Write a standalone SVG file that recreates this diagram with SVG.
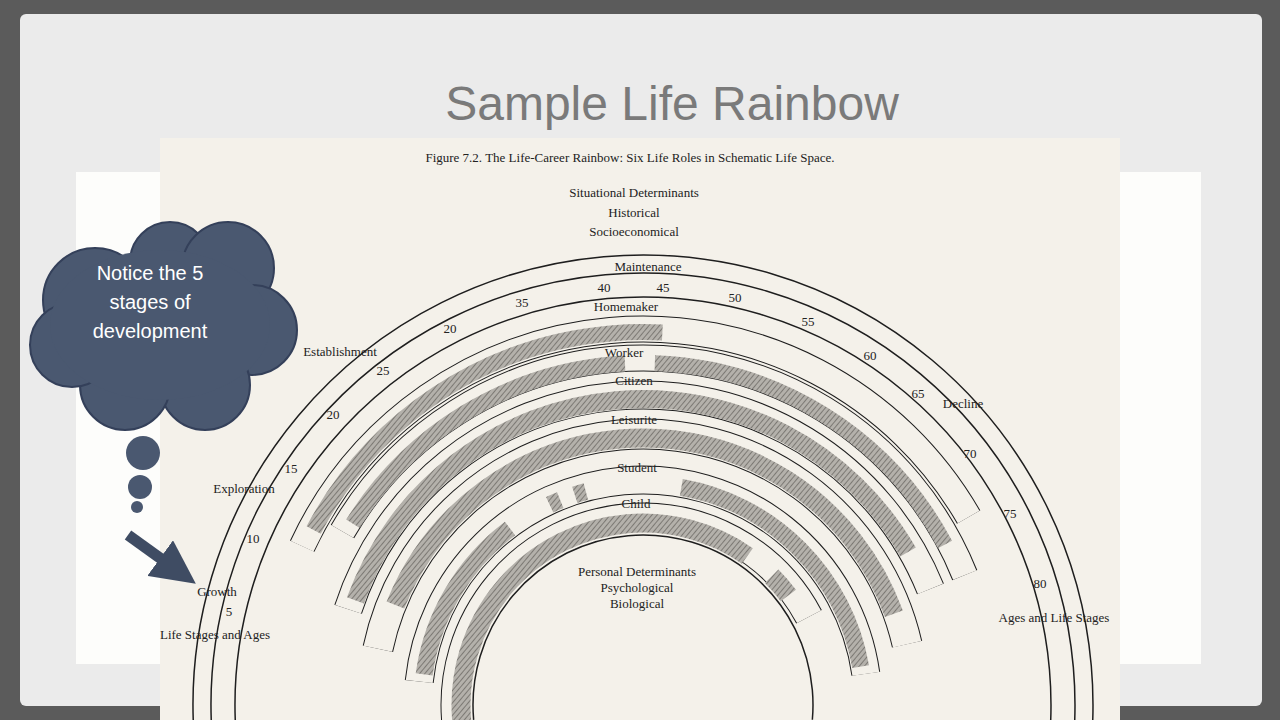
<svg xmlns="http://www.w3.org/2000/svg" width="1280" height="720" viewBox="0 0 1280 720">
<defs>
<pattern id="hatch" width="4" height="4" patternUnits="userSpaceOnUse" patternTransform="rotate(45)">
<rect width="4" height="4" fill="#b4b1ab"/><line x1="0" y1="0" x2="0" y2="4" stroke="#6e6b66" stroke-width="1.6"/>
</pattern>
<clipPath id="sc"><rect x="160" y="138" width="960" height="582"/></clipPath>
<marker id="ah" markerWidth="4" markerHeight="4" refX="2" refY="2" orient="auto"><path d="M0,0 L4,2 L0,4 Z" fill="#3f4c63"/></marker>
</defs>
<style>
.s{font-family:"Liberation Serif",serif;font-size:13px;fill:#222;text-anchor:middle}
.o{fill:none;stroke:#1e1e1e}
.w{fill:none;stroke:#f4f1ea}
.h{fill:none;stroke:url(#hatch)}
.c{fill:#4a5870}
</style>
<rect width="1280" height="720" fill="#5b5b5b"/>
<rect x="20" y="14" width="1242" height="692" rx="6" fill="#ebebeb"/>
<rect x="76" y="172" width="1125" height="492" fill="#fdfdfb"/>
<text x="672" y="120" font-family="Liberation Sans,sans-serif" font-size="48" fill="#7a7a7a" text-anchor="middle">Sample Life Rainbow</text>
<g id="scan">
<rect x="160" y="138" width="960" height="582" fill="#f4f1ea"/>
<g clip-path="url(#sc)">
<g id="rainbow" transform="rotate(175 643 705)">
<g id="stages" class="o" stroke-width="1.5">
<circle cx="643" cy="705" r="450" stroke-dasharray="0 0 190 360" pathLength="360"/>
<circle cx="643" cy="705" r="432" stroke-dasharray="0 0 190 360" pathLength="360"/>
<circle cx="643" cy="705" r="408" stroke-dasharray="0 0 190 360" pathLength="360"/>
</g>
<g id="homemaker">
<circle class="o" cx="643" cy="705" r="376" stroke-width="27" pathLength="360" stroke-dasharray="0 30 125 360"/>
<circle class="w" cx="643" cy="705" r="376" stroke-width="25" pathLength="360" stroke-dasharray="0 30 125 360"/>
<circle class="h" cx="643" cy="705" r="373" stroke-width="16" pathLength="360" stroke-dasharray="0 33 65 360"/>
</g>
<g id="worker">
<circle class="o" cx="643" cy="705" r="347" stroke-width="27" pathLength="360" stroke-dasharray="0 35 128 360"/>
<circle class="w" cx="643" cy="705" r="347" stroke-width="25" pathLength="360" stroke-dasharray="0 35 128 360"/>
<circle class="h" cx="643" cy="705" r="342" stroke-width="16" pathLength="360" stroke-dasharray="0 37 55 5 60 360"/>
</g>
<g id="citizen">
<circle class="o" cx="643" cy="705" r="310" stroke-width="29" pathLength="360" stroke-dasharray="0 23 140 360"/>
<circle class="w" cx="643" cy="705" r="310" stroke-width="27" pathLength="360" stroke-dasharray="0 23 140 360"/>
<circle class="h" cx="643" cy="705" r="306" stroke-width="18" pathLength="360" stroke-dasharray="0 25 130 360"/>
</g>
<g id="leisurite">
<circle class="o" cx="643" cy="705" r="271" stroke-width="31" pathLength="360" stroke-dasharray="0 17 155 360"/>
<circle class="w" cx="643" cy="705" r="271" stroke-width="29" pathLength="360" stroke-dasharray="0 17 155 360"/>
<circle class="h" cx="643" cy="705" r="267" stroke-width="19" pathLength="360" stroke-dasharray="0 27 138 360"/>
</g>
<g id="student">
<circle class="o" cx="643" cy="705" r="225" stroke-width="29" pathLength="360" stroke-dasharray="0 11 166 360"/>
<circle class="w" cx="643" cy="705" r="225" stroke-width="27" pathLength="360" stroke-dasharray="0 11 166 360"/>
<circle class="h" cx="643" cy="705" r="221" stroke-width="17" pathLength="360" stroke-dasharray="0 13 45 12 3 4 3 25 70 360"/>
</g>
<g id="child">
<circle class="o" cx="643" cy="705" r="188" stroke-width="29" pathLength="360" stroke-dasharray="0 0 157 360"/>
<circle class="w" cx="643" cy="705" r="188" stroke-width="27" pathLength="360" stroke-dasharray="0 0 157 360"/>
<circle class="h" cx="643" cy="705" r="182" stroke-width="19" pathLength="360" stroke-dasharray="0 0 130 10 8 360"/>
<circle class="o" cx="643" cy="705" r="170" stroke-width="1.5" pathLength="360" stroke-dasharray="0 0 190 360"/>
</g>
</g>
</g>
<g id="labels">
<text class="s" x="630" y="162" font-size="14">Figure 7.2. The Life-Career Rainbow: Six Life Roles in Schematic Life Space.</text>
<text class="s" x="634" y="197" font-size="14">Situational Determinants</text>
<text class="s" x="634" y="217" font-size="14">Historical</text>
<text class="s" x="634" y="236" font-size="14">Socioeconomical</text>
<text class="s" x="648" y="271">Maintenance</text>
<text class="s" x="604" y="292">40</text><text class="s" x="663" y="292">45</text>
<text class="s" x="522" y="307">35</text><text class="s" x="735" y="302">50</text>
<text class="s" x="808" y="326">55</text><text class="s" x="870" y="360">60</text>
<text class="s" x="918" y="398">65</text><text class="s" x="963" y="408">Decline</text>
<text class="s" x="970" y="458">70</text><text class="s" x="1010" y="518">75</text>
<text class="s" x="1040" y="588">80</text><text class="s" x="1054" y="622">Ages and Life Stages</text>
<text class="s" x="340" y="356">Establishment</text><text class="s" x="450" y="333">20</text>
<text class="s" x="383" y="375">25</text><text class="s" x="333" y="419">20</text>
<text class="s" x="291" y="473">15</text><text class="s" x="244" y="493">Exploration</text>
<text class="s" x="253" y="543">10</text><text class="s" x="217" y="596">Growth</text>
<text class="s" x="229" y="616">5</text><text class="s" x="215" y="639">Life Stages and Ages</text>
<text class="s" x="626" y="311">Homemaker</text>
<text class="s" x="624" y="357">Worker</text>
<text class="s" x="634" y="385">Citizen</text>
<text class="s" x="634" y="424">Leisurite</text>
<text class="s" x="637" y="472">Student</text>
<text class="s" x="636" y="508">Child</text>
<text class="s" x="637" y="576">Personal Determinants</text>
<text class="s" x="637" y="592">Psychological</text>
<text class="s" x="637" y="608">Biological</text>
</g>
</g>
<g id="cloud">
<g class="c" stroke="#34405a" stroke-width="2">
<circle cx="95" cy="300" r="52"/><circle cx="170" cy="262" r="40"/><circle cx="228" cy="268" r="46"/>
<circle cx="252" cy="330" r="45"/><circle cx="205" cy="385" r="45"/><circle cx="125" cy="385" r="45"/>
<circle cx="72" cy="345" r="42"/>
</g>
<ellipse class="c" cx="160" cy="325" rx="110" ry="75"/>
<circle class="c" cx="143" cy="453" r="17"/><circle class="c" cx="140" cy="487" r="12"/><circle class="c" cx="137" cy="507" r="6"/>
<g font-family="Liberation Sans,sans-serif" font-size="20" fill="#fff" text-anchor="middle">
<text x="150" y="280">Notice the 5</text><text x="150" y="309">stages of</text><text x="150" y="338">development</text>
</g>
</g>
<g id="connectors">
<line x1="128" y1="535" x2="178" y2="571" stroke="#3f4c63" stroke-width="11" marker-end="url(#ah)"/>
</g>
</svg>
